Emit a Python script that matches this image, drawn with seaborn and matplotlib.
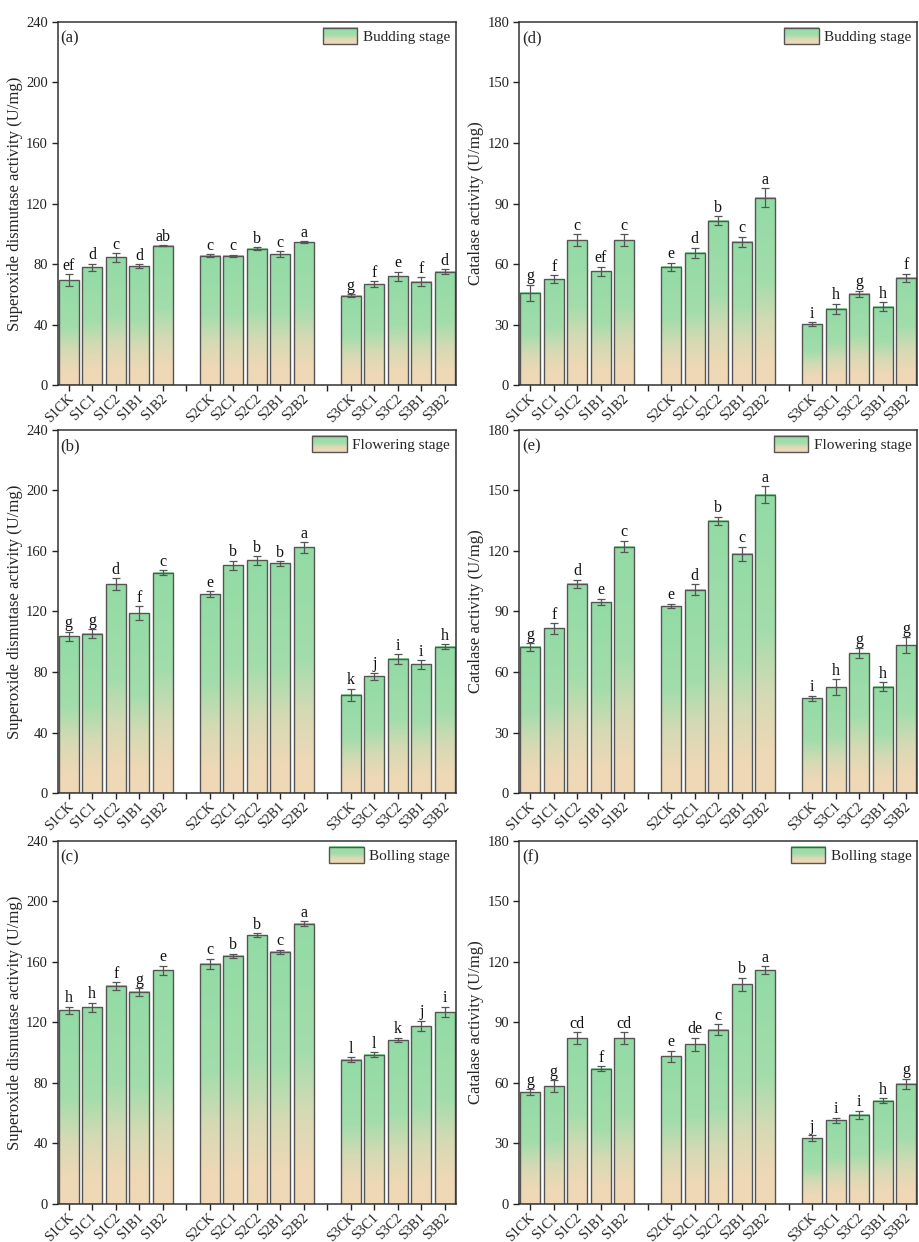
import numpy as np
import pandas as pd
import matplotlib
matplotlib.use("Agg")
import matplotlib.pyplot as plt
import seaborn as sns
from matplotlib.colors import LinearSegmentedColormap
from matplotlib.legend_handler import HandlerBase
from matplotlib.image import BboxImage
from matplotlib.transforms import Bbox, TransformedBbox, ScaledTranslation
from matplotlib.patches import Rectangle

# ---------------- data ----------------
treatments = ["S1CK", "S1C1", "S1C2", "S1B1", "S1B2",
              "S2CK", "S2C1", "S2C2", "S2B1", "S2B2",
              "S3CK", "S3C1", "S3C2", "S3B1", "S3B2"]
gap_labels = [" ", "  "]

sod_budding = [69.4, 77.8, 84.4, 78.5, 92.1, 85.5, 85.5, 90.1, 86.6, 94.5, 59.1, 66.6, 71.8, 68.3, 74.9]
sod_budding_err = [3.9, 2.4, 2.8, 1.2, 0.5, 1.0, 0.7, 1.0, 2.0, 0.5, 1.0, 2.0, 3.0, 3.0, 1.5]
sod_budding_let = ["ef", "d", "c", "d", "ab", "c", "c", "b", "c", "a", "g", "f", "e", "f", "d"]

sod_flowering = [103.6, 105.4, 137.9, 118.9, 145.6, 131.5, 150.5, 153.8, 151.8, 162.4, 65.0, 77.1, 88.6, 85.1, 96.8]
sod_flowering_err = [3.0, 3.0, 4.0, 4.5, 1.7, 2.0, 3.0, 2.8, 1.5, 3.5, 4.0, 2.5, 3.0, 2.8, 1.5]
sod_flowering_let = ["g", "g", "d", "f", "c", "e", "b", "b", "b", "a", "k", "j", "i", "i", "h"]

sod_bolling = [128.0, 130.2, 144.3, 140.3, 154.5, 158.7, 164.0, 177.7, 166.6, 185.2, 95.5, 98.8, 108.3, 117.6, 126.9]
sod_bolling_err = [2.5, 3.0, 2.5, 2.5, 3.0, 3.5, 1.5, 1.5, 1.5, 1.7, 1.7, 1.7, 1.5, 3.5, 3.5]
sod_bolling_let = ["h", "h", "f", "g", "e", "c", "b", "b", "c", "a", "l", "l", "k", "j", "i"]

cat_budding = [45.8, 52.4, 71.7, 56.5, 71.7, 58.7, 65.6, 81.5, 71.1, 92.9, 30.2, 37.9, 45.3, 38.8, 53.2]
cat_budding_err = [4.0, 2.0, 3.0, 2.2, 3.0, 2.0, 2.5, 2.3, 2.5, 4.8, 1.0, 2.5, 1.5, 2.3, 2.0]
cat_budding_let = ["g", "f", "c", "ef", "c", "e", "d", "b", "c", "a", "i", "h", "g", "h", "f"]

cat_flowering = [72.4, 81.6, 103.7, 94.7, 122.2, 92.7, 100.7, 135.1, 118.6, 148.0, 47.0, 52.5, 69.2, 52.8, 73.2]
cat_flowering_err = [2.0, 2.7, 2.0, 1.7, 2.8, 1.2, 2.7, 2.0, 3.5, 4.0, 1.2, 4.0, 2.5, 2.0, 4.0]
cat_flowering_let = ["g", "f", "d", "e", "c", "e", "d", "b", "c", "a", "i", "h", "g", "h", "g"]

cat_bolling = [55.4, 58.4, 82.3, 67.0, 82.3, 73.3, 79.3, 86.3, 109.0, 115.8, 32.7, 41.6, 44.3, 51.3, 59.6]
cat_bolling_err = [1.5, 3.0, 3.0, 1.3, 3.0, 2.7, 3.2, 2.7, 3.3, 2.0, 1.5, 1.2, 2.0, 1.2, 2.5]
cat_bolling_let = ["g", "g", "cd", "f", "cd", "e", "de", "c", "b", "a", "j", "i", "i", "h", "g"]

panel_tags = ["(a)", "(b)", "(c)", "(d)", "(e)", "(f)"]
stage_names = ["Budding stage", "Flowering stage", "Bolling stage"]
sod_label = "Superoxide dismutase activity (U/mg)"
cat_label = "Catalase activity (U/mg)"

# ---------------- style ----------------
sns.set_style("ticks")
plt.rcParams["font.family"] = ["Liberation Serif", "DejaVu Serif"]

cmap = LinearSegmentedColormap.from_list(
    "grad", [(0.0, "#efd8b7"), (0.13, "#eed8b6"), (0.33, "#d5dab4"),
             (0.55, "#a3ddac"), (1.0, "#92dba5")])
grad = np.linspace(0, 1, 256).reshape(-1, 1)

order = treatments[:5] + [gap_labels[0]] + treatments[5:10] + [gap_labels[1]] + treatments[10:]


class GradHandler(HandlerBase):
    def create_artists(self, legend, orig_handle, xdescent, ydescent,
                       width, height, fontsize, trans):
        bb = Bbox.from_bounds(-xdescent, -ydescent, width, height)
        tbb = TransformedBbox(bb, trans)
        img = BboxImage(tbb, cmap=cmap, interpolation="bicubic", origin="lower")
        img.set_data(grad)
        rect = Rectangle((-xdescent, -ydescent), width, height, facecolor="none",
                         edgecolor="#555555", lw=1.0, transform=trans)
        return [img, rect]


def draw_panel(fig, ax, values, errs, letters, ymax, ystep, ylabel, tag, stage):
    df = pd.DataFrame({"treatment": treatments, "value": values})
    sns.barplot(data=df, x="treatment", y="value", order=order, ax=ax,
                color="#92dba5", width=0.86, errorbar=None,
                edgecolor="#555555", linewidth=1.0)
    err_map = dict(zip(treatments, errs))
    let_map = dict(zip(treatments, letters))
    for p in list(ax.patches):
        x0, y0, w, h = p.get_x(), p.get_y(), p.get_width(), p.get_height()
        if h <= 0:
            continue
        ax.imshow(grad, cmap=cmap, extent=(x0, x0 + w, y0, y0 + h),
                  origin="lower", aspect="auto", interpolation="bicubic", zorder=0.9)
        p.set_facecolor("none")
        p.set_zorder(1.5)
        cx = x0 + w / 2
        name = order[int(round(cx))]
        e = err_map[name]
        ax.errorbar(cx, h, yerr=e, fmt="none", ecolor="#555555", elinewidth=0.9,
                    capsize=2.6, capthick=0.9, zorder=2)
        ax.annotate(let_map[name], (cx, h + e), xytext=(0, 0.3),
                    textcoords="offset points", ha="center", va="bottom",
                    fontsize=11.5, color="#111111")
    ax.set_xlim(-0.48, 16.48)
    ax.set_ylim(0, ymax)
    ax.set_yticks(np.arange(0, ymax + 1, ystep))
    ax.set_xlabel("")
    ax.set_ylabel(ylabel, fontsize=12, labelpad=2)
    ax.tick_params(axis="both", length=4.5, width=1.0,
                   colors="#222222", direction="out", top=False, right=False)
    ax.tick_params(axis="y", labelsize=10.5, pad=2.5)
    ax.tick_params(axis="x", labelsize=10, pad=4)
    off = ScaledTranslation(2.5 / 100, 0, fig.dpi_scale_trans)
    for lab in ax.get_xticklabels():
        lab.set_rotation(45)
        lab.set_ha("right")
        lab.set_va("center")
        lab.set_rotation_mode("anchor")
        lab.set_transform(lab.get_transform() + off)
    for s in ax.spines.values():
        s.set_visible(True)
        s.set_color("#333333")
        s.set_linewidth(1.1)
    ax.text(0.008, 0.978, tag, transform=ax.transAxes, ha="left", va="top",
            fontsize=12)
    proxy = Rectangle((0, 0), 1, 1)
    ax.legend([proxy], [stage], handler_map={proxy: GradHandler()},
              loc="upper right", frameon=False, fontsize=11,
              handlelength=2.25, handleheight=1.25, handletextpad=0.35,
              borderaxespad=0.1, borderpad=0.3)


fig = plt.figure(figsize=(9.19, 12.42), dpi=100)
lefts = [0.0626, 0.5647]
width = 0.4336
bottoms = [0.690, 0.3615, 0.0306]
height = 0.2923

sod_sets = [(sod_budding, sod_budding_err, sod_budding_let),
            (sod_flowering, sod_flowering_err, sod_flowering_let),
            (sod_bolling, sod_bolling_err, sod_bolling_let)]
cat_sets = [(cat_budding, cat_budding_err, cat_budding_let),
            (cat_flowering, cat_flowering_err, cat_flowering_let),
            (cat_bolling, cat_bolling_err, cat_bolling_let)]

for i in range(3):
    ax = fig.add_axes([lefts[0], bottoms[i], width, height])
    v, e, l = sod_sets[i]
    draw_panel(fig, ax, v, e, l, 240, 40, sod_label, panel_tags[i], stage_names[i])
    ax2 = fig.add_axes([lefts[1], bottoms[i], width, height])
    v, e, l = cat_sets[i]
    draw_panel(fig, ax2, v, e, l, 180, 30, cat_label, panel_tags[i + 3], stage_names[i])

fig.savefig("out.png", dpi=100, facecolor="white")
